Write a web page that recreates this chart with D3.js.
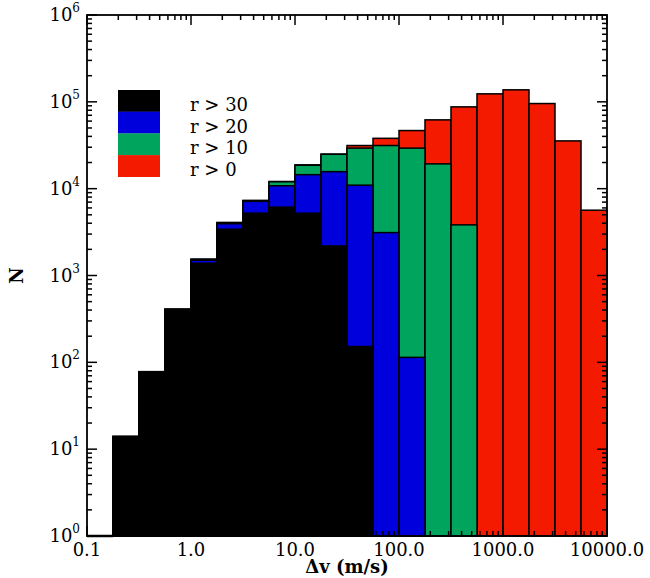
<!DOCTYPE html>
<html>
<head>
<meta charset="utf-8">
<script src="https://cdn.jsdelivr.net/npm/d3@7.9.0/dist/d3.min.js"></script>
<style>
  body { margin: 0; background: #fff; }
  svg { display: block; }
  text { font-family: "DejaVu Serif", "Liberation Serif", serif; fill: #000; }
</style>
</head>
<body>
<svg id="chart" width="650" height="578"></svg>
<script>
// bin edges in m/s (0.25 dex bins)
const binEdges = [0.1778, 0.3162, 0.5623, 1.0, 1.778, 3.162, 5.623, 10.0, 17.78, 31.62,
  56.23, 100.0, 177.8, 316.2, 562.3, 1000.0, 1778, 3162, 5623, 10000];

// counts per bin
const r0  = [14, 78, 410, 1540, 4070, 7300, 12100, 18800, 25000, 31400,
  38000, 46700, 62000, 87500, 123600, 137500, 95600, 35500, 5650];
const r10 = [14, 78, 410, 1540, 4070, 7300, 12000, 18600, 24900, 29300,
  31400, 29300, 19300, 3830, 0, 0, 0, 0, 0];
const r20 = [14, 78, 405, 1500, 3950, 7150, 10800, 14500, 15700, 10970,
  3120, 114, 0, 0, 0, 0, 0, 0, 0];
const r30 = [13.6, 77, 392, 1385, 3410, 5220, 6120, 5220, 2190, 152,
  0, 0, 0, 0, 0, 0, 0, 0, 0];

const seriesNames = ['r > 30', 'r > 20', 'r > 10', 'r > 0'];
const seriesColors = ['#000000', '#0000dc', '#00a45c', '#f31a00'];

const xTickLabels = ['0.1', '1.0', '10.0', '100.0', '1000.0', '10000.0'];

const svg = d3.select('#chart');
const L = 87, R = 607, T = 15, B = 536;

const x = d3.scaleLog().domain([0.1, 10000]).range([L, R]);
const y = d3.scaleLog().domain([1, 1e6]).range([B, T]);

// draw order: widest population first
const layers = [
  { vals: r0,  color: seriesColors[3] },
  { vals: r10, color: seriesColors[2] },
  { vals: r20, color: seriesColors[1] },
  { vals: r30, color: seriesColors[0] }
];

layers.forEach(layer => {
  const bins = layer.vals.map((v, i) => ({ v, x0: binEdges[i], x1: binEdges[i + 1] }))
    .filter(d => d.v > 0);
  svg.append('g').selectAll('rect')
    .data(bins)
    .enter()
    .append('rect')
    .attr('x', d => x(d.x0))
    .attr('width', d => x(d.x1) - x(d.x0))
    .attr('y', d => y(d.v))
    .attr('height', d => y(1) - y(d.v))
    .attr('fill', layer.color)
    .attr('stroke', '#000')
    .attr('stroke-width', 1.5);
});

// histogram floor left of the first bin
svg.append('line')
  .attr('x1', x(0.1)).attr('x2', x(binEdges[0]))
  .attr('y1', y(1)).attr('y2', y(1))
  .attr('stroke', '#000').attr('stroke-width', 2.5);

// frame
svg.append('rect')
  .attr('x', L).attr('y', T)
  .attr('width', R - L).attr('height', B - T)
  .attr('fill', 'none').attr('stroke', '#000').attr('stroke-width', 1.8);

const isMajor = v => Math.abs(Math.log10(v) - Math.round(Math.log10(v))) < 1e-6;

// x ticks (bottom + top, inward)
const xt = x.ticks();
const gx = svg.append('g').attr('stroke', '#000').attr('stroke-width', 1.5);
xt.forEach(v => {
  const len = isMajor(v) ? 10 : 5;
  const px = x(v);
  gx.append('line').attr('x1', px).attr('x2', px).attr('y1', B).attr('y2', B - len);
  gx.append('line').attr('x1', px).attr('x2', px).attr('y1', T).attr('y2', T + len);
});

// y ticks (left + right, inward)
const yt = y.ticks();
const gy = svg.append('g').attr('stroke', '#000').attr('stroke-width', 1.5);
yt.forEach(v => {
  const len = isMajor(v) ? 10 : 5;
  const py = y(v);
  gy.append('line').attr('x1', L).attr('x2', L + len).attr('y1', py).attr('y2', py);
  gy.append('line').attr('x1', R).attr('x2', R - len).attr('y1', py).attr('y2', py);
});

// x tick labels
const xMajor = xt.filter(isMajor);
svg.append('g').selectAll('text')
  .data(xMajor)
  .enter()
  .append('text')
  .attr('x', d => x(d))
  .attr('y', 556)
  .attr('text-anchor', 'middle')
  .style('font-size', '18px')
  .text((d, i) => xTickLabels[i]);

// y tick labels: 10^n
const yMajor = yt.filter(isMajor);
yMajor.forEach(v => {
  const t = svg.append('text')
    .attr('x', 80)
    .attr('y', y(v) + 6)
    .attr('text-anchor', 'end')
    .style('font-size', '18px');
  t.append('tspan').text('10');
  t.append('tspan')
    .attr('dy', -9)
    .style('font-size', '12px')
    .text(Math.round(Math.log10(v)));
});

// axis titles
svg.append('text')
  .attr('x', (L + R) / 2)
  .attr('y', 573)
  .attr('text-anchor', 'middle')
  .style('font-size', '18px')
  .style('font-weight', 'bold')
  .text('\u0394v (m/s)');

svg.append('text')
  .attr('transform', `translate(23, ${(T + B) / 2}) rotate(-90)`)
  .attr('text-anchor', 'middle')
  .style('font-size', '18px')
  .style('font-weight', 'bold')
  .text('N');

// legend
const lg = svg.append('g');
seriesNames.forEach((name, i) => {
  lg.append('rect')
    .attr('x', 118).attr('y', 90 + i * 21.7)
    .attr('width', 42).attr('height', 21.9)
    .attr('fill', seriesColors[i]);
  lg.append('text')
    .attr('x', 190).attr('y', 111 + i * 21.7)
    .style('font-size', '18px')
    .text(name);
});
</script>
</body>
</html>
